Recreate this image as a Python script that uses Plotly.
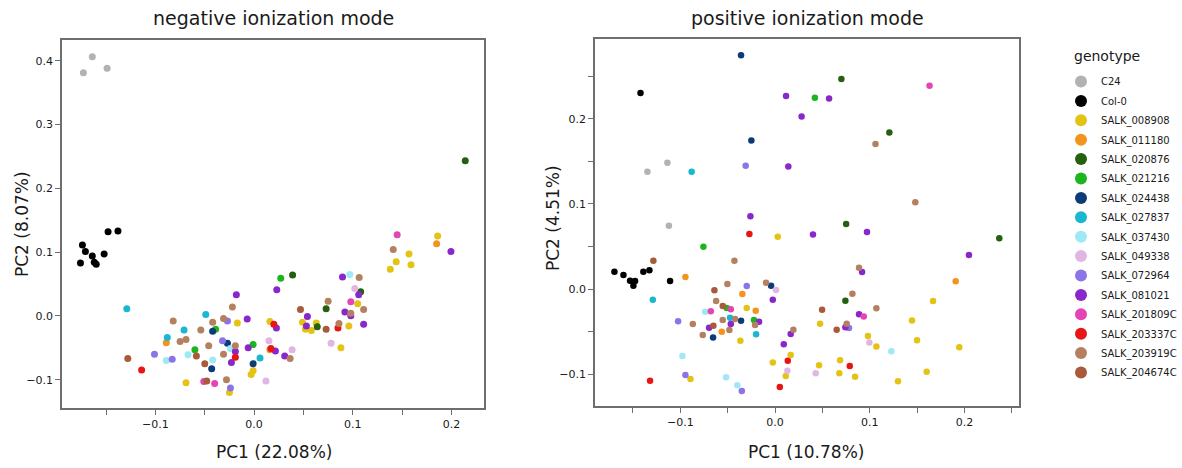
import plotly.graph_objects as go

# ---- genotypes and their colours -------------------------------------------
genotypes = ["C24", "Col-0", "SALK_008908", "SALK_011180", "SALK_020876",
             "SALK_021216", "SALK_024438", "SALK_027837", "SALK_037430",
             "SALK_049338", "SALK_072964", "SALK_081021", "SALK_201809C",
             "SALK_203337C", "SALK_203919C", "SALK_204674C"]
colors = ["#b2b2b2", "#000000", "#e3c414", "#f3941f", "#24600f", "#1db51f",
          "#0c3b78", "#1bb6d2", "#9fe9f6", "#e2b6e2", "#8b74ea", "#8a27cb",
          "#e545b4", "#e81515", "#b5805f", "#a85a3a"]

# ---- negative ionization mode: (PC1, PC2) per sample -----------------------
neg_c24 = [(-0.173, 0.381), (-0.164, 0.406), (-0.149, 0.388)]
neg_col0 = [(-0.148, 0.132), (-0.138, 0.133), (-0.174, 0.111), (-0.171, 0.101),
            (-0.164, 0.094), (-0.152, 0.097), (-0.176, 0.083), (-0.162, 0.084),
            (-0.160, 0.081)]
neg_salk_008908 = [(0.157, 0.097), (0.144, 0.085), (0.138, 0.073), (0.159, 0.080),
                   (0.186, 0.125), (0.105, 0.019), (0.049, -0.010), (0.052, -0.021),
                   (0.058, -0.023), (0.063, -0.011), (0.096, -0.016), (0.088, -0.050),
                   (-0.069, -0.105), (-0.017, -0.011), (-0.025, -0.120), (-0.003, -0.092),
                   (-0.001, -0.086), (0.016, -0.009)]
neg_salk_011180 = [(0.185, 0.113), (-0.089, -0.042), (0.016, -0.053)]
neg_salk_020876 = [(0.214, 0.243), (0.039, 0.064), (0.108, 0.038), (0.073, 0.011),
                   (0.064, -0.017)]
neg_salk_021216 = [(0.027, 0.059), (-0.060, -0.053), (-0.039, -0.021), (-0.001, -0.045)]
neg_salk_024438 = [(-0.042, -0.024), (-0.043, -0.083), (-0.027, -0.043), (-0.001, -0.075)]
neg_salk_027837 = [(-0.129, 0.011), (-0.088, -0.034), (-0.071, -0.022), (-0.049, 0.002),
                   (0.006, -0.066)]
neg_salk_037430 = [(0.097, 0.065), (-0.089, -0.070), (-0.067, -0.061), (-0.042, -0.069),
                   (-0.024, -0.051)]
neg_salk_049338 = [(0.102, 0.043), (0.078, -0.043), (0.0385, -0.053), (0.012, -0.102),
                   (0.015, -0.039)]
neg_salk_072964 = [(-0.101, -0.060), (-0.083, -0.068), (-0.027, -0.008), (-0.032, -0.039),
                   (-0.024, -0.113)]
neg_salk_081021 = [(0.1995, 0.101), (0.0896, 0.061), (0.106, 0.033), (0.092, 0.006),
                   (0.098, 0.000), (0.111, -0.013), (0.054, -0.001), (0.053, -0.016),
                   (0.031, -0.063), (-0.018, 0.033), (-0.007, -0.005), (-0.006, -0.050),
                   (-0.019, -0.056), (-0.023, -0.073), (0.023, 0.041), (0.0226, -0.019),
                   (0.0216, -0.055)]
neg_salk_201809c = [(0.145, 0.127), (0.098, 0.022), (-0.051, -0.103), (-0.040, -0.106)]
neg_salk_203337c = [(0.085, -0.019), (-0.114, -0.085), (-0.019, -0.065), (0.020, -0.013),
                    (0.017, -0.051)]
neg_salk_203919c = [(0.141, 0.104), (0.1065, 0.060), (0.075, 0.023), (0.098, 0.004),
                    (0.111, 0.010), (0.086, -0.012), (-0.082, -0.008), (-0.075, -0.040),
                    (-0.069, -0.037), (-0.054, -0.022), (-0.042, -0.010), (-0.046, -0.047),
                    (-0.031, -0.004), (-0.022, 0.014), (-0.019, -0.047), (-0.031, -0.060),
                    (-0.028, -0.100), (0.0365, -0.067)]
neg_salk_204674c = [(0.047, 0.010), (0.073, -0.021), (-0.128, -0.067), (-0.0585, -0.063),
                    (-0.050, -0.075), (-0.048, -0.102)]

# ---- positive ionization mode: (PC1, PC2) per sample -----------------------
pos_c24 = [(-0.1136, 0.1486), (-0.1347, 0.138), (-0.112, 0.0745)]
pos_col0 = [(-0.142, 0.2306), (-0.1695, 0.0204), (-0.160, 0.0165), (-0.153, 0.0098),
            (-0.1477, 0.0094), (-0.1495, 0.0039), (-0.139, 0.0204), (-0.1326, 0.022),
            (-0.1108, 0.0094)]
pos_salk_008908 = [(0.1667, -0.014), (0.0475, -0.041), (0.1445, -0.037), (0.098, -0.0553),
                   (0.1069, -0.0675), (0.1498, -0.0604), (0.1944, -0.0686), (0.0686, -0.0839),
                   (0.0464, -0.0898), (0.0678, -0.0992), (0.0844, -0.1031), (0.160, -0.0973),
                   (0.1297, -0.1086), (0.0028, 0.0615), (-0.0299, -0.0224), (-0.0366, -0.0608),
                   (0.0165, -0.0776), (-0.0024, -0.0863), (0.0113, -0.1024), (-0.0893, -0.1059)]
pos_salk_011180 = [(0.1906, 0.009), (-0.0946, 0.0141), (-0.0345, -0.0059), (-0.0204, -0.0255),
                   (-0.0562, -0.0502)]
pos_salk_020876 = [(0.070, 0.247), (0.1206, 0.184), (0.075, 0.0765), (0.2366, 0.0596),
                   (0.0742, -0.0138)]
pos_salk_021216 = [(0.042, 0.225), (-0.0756, 0.0498), (-0.051, -0.0224), (-0.0222, -0.0365)]
pos_salk_024438 = [(-0.0359, 0.275), (-0.025, 0.1745), (-0.0042, 0.0039), (-0.0359, -0.0373),
                   (-0.0654, -0.0569)]
pos_salk_027837 = [(-0.088, 0.138), (-0.129, -0.0126), (-0.0475, -0.0337), (-0.020, -0.0533)]
pos_salk_037430 = [(0.1227, -0.0733), (-0.0738, -0.0267), (-0.0978, -0.0788), (-0.0517, -0.1039),
                   (-0.0398, -0.1133)]
pos_salk_049338 = [(0.0995, -0.063), (0.0429, -0.0992), (0.001, -0.0012), (0.013, -0.0961)]
pos_salk_072964 = [(-0.031, 0.145), (0.078, -0.046), (-0.0299, 0.0035), (-0.1023, -0.038),
                   (-0.0946, -0.1012), (-0.0351, -0.120)]
pos_salk_081021 = [(0.0116, 0.227), (0.028, 0.203), (0.014, 0.144), (-0.026, 0.0855),
                   (0.057, 0.224), (0.040, 0.064), (0.097, 0.067), (0.2046, 0.040),
                   (0.0918, 0.020), (0.0886, -0.0298), (0.0742, -0.045), (-0.0024, -0.0126),
                   (-0.0169, -0.0384), (-0.0467, -0.0412), (-0.0696, -0.0455), (0.0165, -0.0529),
                   (0.0092, -0.0651)]
pos_salk_201809c = [(0.163, 0.239), (0.0936, -0.0322), (-0.0467, -0.0239), (-0.0678, -0.0262)]
pos_salk_203337c = [(-0.0271, 0.0647), (0.0788, -0.0906), (0.0134, -0.0843), (-0.1319, -0.1078),
                    (0.005, -0.1153)]
pos_salk_203919c = [(0.106, 0.1706), (0.148, 0.102), (0.0886, 0.025), (0.0816, -0.0055),
                    (0.1069, -0.0227), (0.0756, -0.0408), (-0.0429, 0.0333), (-0.0503, 0.0059),
                    (-0.0095, 0.0074), (-0.0622, -0.0141), (-0.0868, -0.0412), (-0.0552, -0.0365),
                    (-0.0422, -0.0353), (-0.0211, -0.0424), (-0.0482, -0.0482), (-0.0763, -0.0541),
                    (0.0193, -0.0478)]
pos_salk_204674c = [(0.0496, -0.0243), (0.065, -0.048), (-0.1284, 0.0333), (-0.064, -0.0015),
                    (-0.0552, -0.020), (-0.0651, -0.0431)]

neg_samples = [neg_c24, neg_col0, neg_salk_008908, neg_salk_011180, neg_salk_020876,
               neg_salk_021216, neg_salk_024438, neg_salk_027837, neg_salk_037430,
               neg_salk_049338, neg_salk_072964, neg_salk_081021, neg_salk_201809c,
               neg_salk_203337c, neg_salk_203919c, neg_salk_204674c]
pos_samples = [pos_c24, pos_col0, pos_salk_008908, pos_salk_011180, pos_salk_020876,
               pos_salk_021216, pos_salk_024438, pos_salk_027837, pos_salk_037430,
               pos_salk_049338, pos_salk_072964, pos_salk_081021, pos_salk_201809c,
               pos_salk_203337c, pos_salk_203919c, pos_salk_204674c]

FONT = "DejaVu Sans"
W, H = 1182, 468

fig = go.Figure()
for name, color, neg, pos in zip(genotypes, colors, neg_samples, pos_samples):
    fig.add_trace(go.Scatter(
        x=[p[0] for p in neg], y=[p[1] for p in neg], mode="markers",
        name=name, legendgroup=name, showlegend=True,
        marker=dict(color=color, size=7, line=dict(width=0)),
        xaxis="x", yaxis="y"))
    fig.add_trace(go.Scatter(
        x=[p[0] for p in pos], y=[p[1] for p in pos], mode="markers",
        name=name, legendgroup=name, showlegend=False,
        marker=dict(color=color, size=6.5, line=dict(width=0)),
        xaxis="x2", yaxis="y2"))

axis_common = dict(
    showgrid=False, zeroline=False, showline=True, mirror=True,
    linecolor="#6e6e6e", linewidth=1.5,
    ticks="outside", ticklen=5, tickwidth=1.2, tickcolor="#6e6e6e",
    tickformat=".1f", tickfont=dict(family=FONT, size=11, color="#1a1a1a"),
)
minor = dict(ticks="outside", ticklen=5, tickwidth=1.2, tickcolor="#6e6e6e",
             dtick=0.05, tick0=0, showgrid=False)


def px_x(a, b):
    return [a / W, b / W]


def px_y(top, bottom):
    return [1 - bottom / H, 1 - top / H]


fig.update_layout(
    width=W, height=H,
    margin=dict(l=0, r=0, t=0, b=0),
    paper_bgcolor="white", plot_bgcolor="white",
    font=dict(family=FONT, color="#1a1a1a"),
    xaxis=dict(domain=px_x(62, 484), range=[-0.1947, 0.233], dtick=0.1, tick0=0,
               minor=minor, anchor="y", **axis_common),
    yaxis=dict(domain=px_y(40, 408), range=[-0.1444, 0.4324], dtick=0.1, tick0=0,
               anchor="x", **axis_common),
    xaxis2=dict(domain=px_x(595, 1019), range=[-0.19, 0.2574], dtick=0.1, tick0=0,
                minor=minor, anchor="y2", **axis_common),
    yaxis2=dict(domain=px_y(39, 406), range=[-0.1376, 0.294], dtick=0.1, tick0=0,
                minor=minor, anchor="x2", **axis_common),
    legend=dict(
        font=dict(family=FONT, size=10, color="#1a1a1a"),
        x=1061 / W, xanchor="left", y=1 - 67 / H, yanchor="top",
        itemsizing="constant", traceorder="grouped", tracegroupgap=0.4,
        bgcolor="rgba(0,0,0,0)",
    ),
    showlegend=True,
)

annotations = [
    dict(text="negative ionization mode", x=273 / W, y=1 - 18 / H, size=19, anchor="center"),
    dict(text="positive ionization mode", x=807 / W, y=1 - 18 / H, size=19, anchor="center"),
    dict(text="PC1 (22.08%)", x=274 / W, y=1 - 452 / H, size=17, anchor="center"),
    dict(text="PC1 (10.78%)", x=806 / W, y=1 - 452 / H, size=17, anchor="center"),
    dict(text="genotype", x=1072 / W, y=1 - 56 / H, size=14, anchor="left"),
]
for a in annotations:
    fig.add_annotation(text=a["text"], xref="paper", yref="paper", x=a["x"], y=a["y"],
                       xanchor=a["anchor"], yanchor="middle", showarrow=False,
                       font=dict(family=FONT, size=a["size"], color="#1a1a1a"))
for text, x, y in [("PC2 (8.07%)", 22, 224), ("PC2 (4.51%)", 553, 218)]:
    fig.add_annotation(text=text, xref="paper", yref="paper", x=x / W, y=1 - y / H,
                       xanchor="center", yanchor="middle", textangle=-90, showarrow=False,
                       font=dict(family=FONT, size=17, color="#1a1a1a"))

fig.write_html("out.html")
